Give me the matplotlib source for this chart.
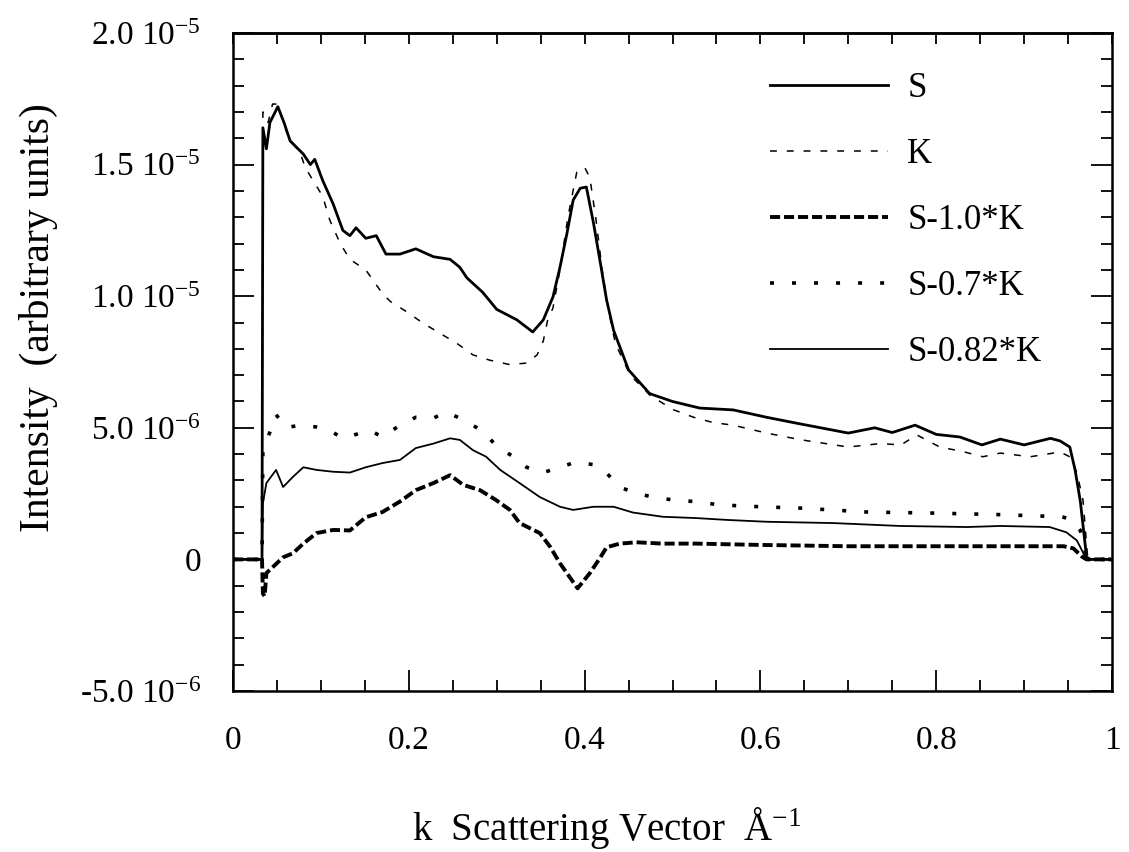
import numpy as np
import matplotlib
matplotlib.use("Agg")
import matplotlib.pyplot as plt
from matplotlib.ticker import MultipleLocator, FixedLocator, FixedFormatter

plt.rcParams['font.family'] = ['Liberation Serif', 'DejaVu Serif']
plt.rcParams['mathtext.fontset'] = 'custom'
plt.rcParams['mathtext.rm'] = 'Liberation Serif'
plt.rcParams['mathtext.it'] = 'Liberation Serif:italic'

UNIT = 1e-6  # values below are in units of 1e-6

# S
k_s = [0.0, 0.033, 0.034, 0.038, 0.042, 0.051, 0.058, 0.065, 0.080, 0.088, 0.093,
       0.102, 0.114, 0.125, 0.133, 0.140, 0.151, 0.163, 0.174, 0.190, 0.208,
       0.228, 0.247, 0.258, 0.266, 0.284, 0.300, 0.323, 0.341, 0.353, 0.364,
       0.372, 0.380, 0.387, 0.395, 0.402, 0.410, 0.418, 0.425, 0.433, 0.450,
       0.474, 0.500, 0.531, 0.569, 0.607, 0.645, 0.700, 0.730, 0.750, 0.776,
       0.800, 0.827, 0.852, 0.873, 0.900, 0.930, 0.941, 0.952, 0.958, 0.964,
       0.971, 0.975, 1.0]
s_vals = [0.0, 0.0, 16.4, 15.6, 16.6, 17.2, 16.6, 15.9, 15.4, 15.0, 15.2,
          14.4, 13.5, 12.5, 12.3, 12.6, 12.2, 12.3, 11.6, 11.6, 11.8,
          11.5, 11.4, 11.1, 10.7, 10.15, 9.5, 9.1, 8.64, 9.1, 9.97,
          11.1, 12.4, 13.65, 14.1, 14.15, 12.8, 11.25, 9.86, 8.7, 7.2,
          6.3, 6.0, 5.75, 5.68, 5.4, 5.15, 4.8, 5.0, 4.82, 5.1,
          4.75, 4.65, 4.35, 4.57, 4.35, 4.6, 4.5, 4.27, 3.4, 2.2,
          0.1, 0.0, 0.0]

# K
k_k = [0.0, 0.033, 0.034, 0.040, 0.045, 0.051, 0.058, 0.065, 0.076, 0.082, 0.091,
       0.102, 0.110, 0.122, 0.133, 0.151, 0.170, 0.179, 0.198, 0.216, 0.235,
       0.255, 0.273, 0.292, 0.315, 0.334, 0.346, 0.353, 0.358, 0.364, 0.372,
       0.381, 0.391, 0.400, 0.406, 0.413, 0.420, 0.427, 0.435, 0.452, 0.474,
       0.500, 0.524, 0.546, 0.569, 0.607, 0.645, 0.700, 0.736, 0.760, 0.778,
       0.804, 0.830, 0.853, 0.873, 0.907, 0.941, 0.952, 0.960, 0.967, 0.972,
       0.976, 1.0]
k_vals = [0.0, 0.0, 17.0, 16.6, 17.3, 17.3, 16.5, 15.9, 15.5, 14.9, 14.4,
          13.8, 12.9, 12.0, 11.4, 11.0, 10.1, 9.8, 9.4, 8.98, 8.6,
          8.2, 7.77, 7.57, 7.4, 7.46, 7.77, 8.3, 9.1, 9.55, 11.0,
          13.0, 14.7, 14.9, 14.5, 12.9, 11.0, 9.5, 8.2, 7.0, 6.25,
          5.7, 5.4, 5.2, 5.1, 4.8, 4.55, 4.27, 4.4, 4.35, 4.73,
          4.27, 4.1, 3.9, 4.04, 3.9, 4.08, 3.9, 3.3, 2.25, 0.2,
          0.0, 0.0]

# S-1.0*K
k_d10 = [0.0, 0.033, 0.034, 0.036, 0.038, 0.045, 0.057, 0.068, 0.080, 0.095, 0.114,
         0.133, 0.151, 0.170, 0.190, 0.208, 0.228, 0.247, 0.262, 0.281, 0.299,
         0.315, 0.326, 0.349, 0.361, 0.372, 0.383, 0.392, 0.406, 0.418, 0.425,
         0.440, 0.459, 0.489, 0.527, 0.600, 0.700, 0.800, 0.900, 0.945, 0.956,
         0.966, 0.971, 1.0]
d10_vals = [0.0, 0.0, -1.3, -1.4, -0.52, -0.3, 0.08, 0.23, 0.6, 1.0, 1.12,
            1.1, 1.6, 1.8, 2.2, 2.63, 2.9, 3.2, 2.83, 2.63, 2.26,
            1.88, 1.38, 1.0, 0.47, -0.15, -0.67, -1.1, -0.52, 0.08, 0.46,
            0.6, 0.65, 0.6, 0.6, 0.55, 0.5, 0.5, 0.5, 0.5, 0.42,
            0.1, 0.0, 0.0]

# S-0.7*K
k_d07 = [0.0, 0.033, 0.034, 0.042, 0.049, 0.060, 0.076, 0.095, 0.110, 0.125, 0.145,
         0.156, 0.170, 0.190, 0.208, 0.228, 0.243, 0.262, 0.284, 0.300, 0.319,
         0.334, 0.353, 0.372, 0.390, 0.410, 0.425, 0.440, 0.459, 0.478, 0.500,
         0.524, 0.554, 0.600, 0.645, 0.721, 0.797, 0.873, 0.943, 0.955, 0.964,
         0.971, 0.975, 1.0]
d07_vals = [0.0, 0.0, 4.15, 4.84, 5.5, 5.0, 5.1, 5.03, 4.9, 4.6, 4.8,
            4.9, 4.65, 5.1, 5.4, 5.37, 5.6, 5.3, 4.88, 4.3, 3.9,
            3.5, 3.3, 3.5, 3.7, 3.6, 3.28, 2.75, 2.5, 2.37, 2.26,
            2.2, 2.07, 2.0, 1.95, 1.8, 1.76, 1.7, 1.62, 1.5, 1.1,
            0.1, 0.0, 0.0]

# S-0.82*K
k_d082 = [0.0, 0.033, 0.034, 0.038, 0.049, 0.057, 0.068, 0.080, 0.095, 0.114, 0.133,
          0.151, 0.170, 0.190, 0.208, 0.228, 0.247, 0.258, 0.273, 0.288, 0.304,
          0.326, 0.349, 0.372, 0.387, 0.410, 0.433, 0.455, 0.489, 0.527, 0.562,
          0.607, 0.683, 0.759, 0.835, 0.873, 0.929, 0.948, 0.960, 0.971, 1.0]
d082_vals = [0.0, 0.0, 2.14, 2.9, 3.4, 2.75, 3.13, 3.5, 3.4, 3.33, 3.3,
             3.5, 3.66, 3.78, 4.23, 4.4, 4.6, 4.54, 4.15, 3.9, 3.4,
             2.9, 2.37, 2.0, 1.88, 2.0, 2.0, 1.78, 1.62, 1.57, 1.5,
             1.43, 1.38, 1.27, 1.23, 1.27, 1.23, 1.03, 0.72, 0.0, 0.0]

xticks = [0, 0.2, 0.4, 0.6, 0.8, 1.0]
xtick_labels = ['0', '0.2', '0.4', '0.6', '0.8', '1']
yticks = [-5e-6, 0, 5e-6, 1e-5, 1.5e-5, 2e-5]
ytick_labels = ['-5.0 10$^{-6}$', '0', '5.0 10$^{-6}$',
                '1.0 10$^{-5}$', '1.5 10$^{-5}$', '2.0 10$^{-5}$']

W, H = 1129, 852
fig = plt.figure(figsize=(W / 100, H / 100), dpi=100)
ax = fig.add_axes([233 / W, 1 - 691 / H, (1112 - 233) / W, (691 - 33) / H])

sc = lambda v: np.array(v) * UNIT
ax.plot(k_s, sc(s_vals), color='black', lw=2.0, label='S')
ax.plot(k_k, sc(k_vals), color='black', lw=1.1, dashes=(4.5, 6.5), label='K')
ax.plot(k_d10, sc(d10_vals), color='black', lw=2.8, dashes=(2.6, 1.0), label='S-1.0*K')
ax.plot(k_d07, sc(d07_vals), color='black', lw=2.6, dashes=(1.1, 5.0), label='S-0.7*K')
ax.plot(k_d082, sc(d082_vals), color='black', lw=1.3, label='S-0.82*K')

ax.set_xlim(0, 1)
ax.set_ylim(-5e-6, 2e-5)
ax.xaxis.set_major_locator(FixedLocator(xticks))
ax.xaxis.set_minor_locator(MultipleLocator(0.05))
ax.xaxis.set_major_formatter(FixedFormatter(xtick_labels))
ax.yaxis.set_major_locator(FixedLocator(yticks))
ax.yaxis.set_minor_locator(MultipleLocator(1e-6))
ax.yaxis.set_major_formatter(FixedFormatter(ytick_labels))

ax.tick_params(which='both', direction='in', left=True, right=True,
               bottom=True, top=False, width=1.3, labelsize=24)
ax.tick_params(which='major', length=15)
ax.tick_params(which='minor', length=8)
ax.tick_params(axis='y', pad=23)
ax.tick_params(axis='x', pad=25)

top = ax.secondary_xaxis('top')
top.set_xticks(np.arange(0, 1.001, 0.05))
top.tick_params(direction='in', length=8, width=1.3, labeltop=False)

for sp in ax.spines.values():
    sp.set_linewidth(1.8)
top.spines['top'].set_linewidth(1.8)

fig.text(38 / W, 1 - 318 / H, 'Intensity  (arbitrary units)', rotation=90,
         ha='center', va='center', fontsize=30)
fig.text(412 / W, 1 - 840 / H, 'k  Scattering Vector  Å$^{-1}$',
         ha='left', va='baseline', fontsize=28)

leg = ax.legend(loc='upper left', bbox_to_anchor=(0.611, 0.94), frameon=False,
                fontsize=25, handlelength=3.4, handletextpad=0.55,
                labelspacing=0.95, borderpad=0, borderaxespad=0)

fig.savefig('out.png', dpi=100)
